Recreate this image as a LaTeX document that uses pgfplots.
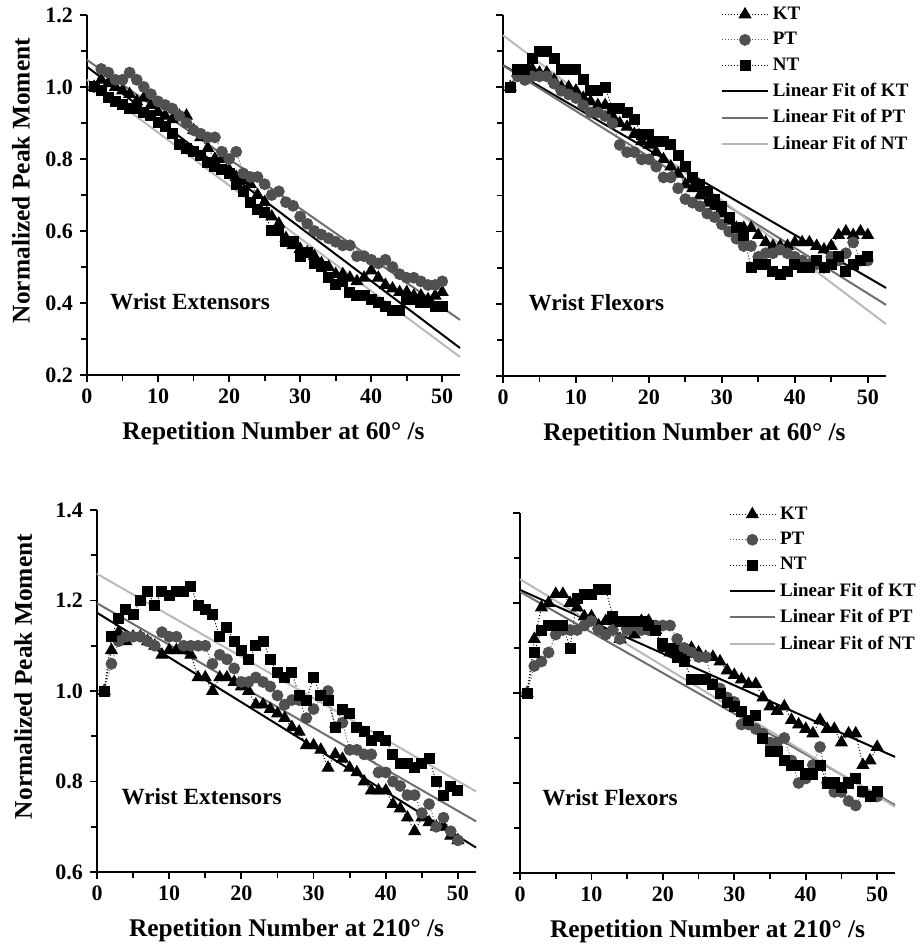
\documentclass[border=0pt]{standalone}
\usepackage{fontspec}
\setmainfont{Liberation Serif}
\usepackage{pgfplots}
\usepackage{pgfplotstable}
\pgfplotsset{compat=1.18}
\definecolor{ptmarkcol}{RGB}{80,80,80}
\definecolor{ptfitcol}{RGB}{110,110,110}
\definecolor{ntfitcol}{RGB}{185,185,185}

% columns: repetition, KT, PT, NT
\pgfplotstableread{
x kt pt nt
1 1.00 1.00 1.00
2 1.02 1.05 0.99
3 1.01 1.04 0.97
4 1.00 1.02 0.96
5 0.99 1.02 0.95
6 0.98 1.04 0.94
7 0.96 1.02 0.94
8 0.97 1.00 0.93
9 0.95 0.98 0.92
10 0.93 0.96 0.90
11 0.92 0.95 0.89
12 0.91 0.94 0.87
13 0.92 0.92 0.84
14 0.92 0.90 0.83
15 0.88 0.88 0.82
16 0.86 0.87 0.81
17 0.83 0.86 0.79
18 0.80 0.86 0.78
19 0.80 0.82 0.77
20 0.77 0.80 0.76
21 0.75 0.82 0.73
22 0.74 0.76 0.71
23 0.73 0.75 0.68
24 0.70 0.75 0.66
25 0.68 0.73 0.65
26 0.64 0.70 0.60
27 0.62 0.71 0.60
28 0.58 0.68 0.57
29 0.56 0.67 0.57
30 0.55 0.64 0.53
31 0.54 0.62 0.54
32 0.53 0.60 0.51
33 0.51 0.59 0.50
34 0.50 0.58 0.47
35 0.48 0.57 0.45
36 0.48 0.56 0.46
37 0.47 0.56 0.43
38 0.46 0.53 0.42
39 0.47 0.53 0.42
40 0.49 0.52 0.41
41 0.47 0.51 0.40
42 0.45 0.52 0.39
43 0.44 0.50 0.38
44 0.43 0.48 0.38
45 0.43 0.47 0.41
46 0.42 0.47 0.41
47 0.42 0.46 0.40
48 0.41 0.45 0.40
49 0.42 0.45 0.39
50 0.43 0.46 0.39
}\extsixty

\pgfplotstableread{
x kt pt nt
1 1.00 1.00 1.00
2 1.04 1.03 1.05
3 1.03 1.02 1.05
4 1.05 1.03 1.08
5 1.04 1.03 1.10
6 1.04 1.03 1.10
7 1.02 1.01 1.08
8 1.00 0.99 1.05
9 1.00 0.98 1.05
10 0.99 0.97 1.05
11 0.97 0.95 1.02
12 0.96 0.93 0.99
13 0.95 0.93 0.99
14 0.95 0.92 1.00
15 0.92 0.90 0.94
16 0.90 0.84 0.94
17 0.89 0.82 0.93
18 0.87 0.82 0.91
19 0.85 0.80 0.87
20 0.84 0.80 0.87
21 0.82 0.78 0.85
22 0.80 0.75 0.85
23 0.78 0.75 0.84
24 0.76 0.72 0.81
25 0.73 0.69 0.78
26 0.72 0.68 0.75
27 0.70 0.67 0.73
28 0.68 0.65 0.71
29 0.67 0.64 0.69
30 0.65 0.62 0.67
31 0.63 0.60 0.64
32 0.61 0.58 0.61
33 0.61 0.56 0.59
34 0.61 0.56 0.50
35 0.59 0.53 0.51
36 0.57 0.54 0.51
37 0.56 0.54 0.49
38 0.56 0.55 0.48
39 0.56 0.54 0.49
40 0.57 0.53 0.51
41 0.57 0.52 0.50
42 0.57 0.51 0.50
43 0.56 0.51 0.52
44 0.55 0.50 0.50
45 0.56 0.53 0.51
46 0.59 0.52 0.53
47 0.60 0.54 0.49
48 0.59 0.57 0.51
49 0.60 0.52 0.52
50 0.59 0.52 0.53
}\flexsixty

\pgfplotstableread{
x kt pt nt
1 1.00 1.00 1.00
2 1.09 1.06 1.12
3 1.13 1.11 1.16
4 1.11 1.12 1.18
5 1.12 1.12 1.17
6 1.12 1.12 1.20
7 1.11 1.11 1.22
8 1.10 1.10 1.19
9 1.08 1.13 1.22
10 1.09 1.12 1.21
11 1.09 1.12 1.22
12 1.09 1.10 1.22
13 1.08 1.10 1.23
14 1.03 1.10 1.19
15 1.03 1.10 1.18
16 1.00 1.06 1.17
17 1.03 1.08 1.12
18 1.03 1.07 1.14
19 1.02 1.05 1.11
20 1.01 1.02 1.09
21 1.00 1.02 1.07
22 0.97 1.03 1.10
23 0.97 1.02 1.11
24 0.96 1.01 1.07
25 0.95 0.99 1.04
26 0.94 0.97 1.03
27 0.92 0.98 1.04
28 0.91 0.98 0.99
29 0.88 0.94 0.98
30 0.88 0.96 1.03
31 0.87 0.99 0.99
32 0.83 1.00 0.98
33 0.86 0.92 0.92
34 0.85 0.93 0.96
35 0.83 0.87 0.95
36 0.82 0.87 0.92
37 0.80 0.86 0.91
38 0.78 0.86 0.89
39 0.78 0.82 0.90
40 0.78 0.82 0.89
41 0.75 0.80 0.86
42 0.74 0.79 0.84
43 0.72 0.77 0.84
44 0.69 0.77 0.83
45 0.72 0.73 0.84
46 0.71 0.75 0.85
47 0.70 0.70 0.80
48 0.70 0.72 0.77
49 0.68 0.69 0.79
50 0.67 0.67 0.78
}\exttwoten

\pgfplotstableread{
x kt pt nt
1 1.00 1.00 1.00
2 1.12 1.06 1.09
3 1.19 1.07 1.14
4 1.20 1.09 1.15
5 1.22 1.13 1.15
6 1.22 1.14 1.15
7 1.20 1.14 1.10
8 1.19 1.14 1.21
9 1.17 1.15 1.22
10 1.17 1.16 1.22
11 1.15 1.14 1.23
12 1.16 1.13 1.23
13 1.16 1.14 1.17
14 1.12 1.12 1.16
15 1.15 1.14 1.16
16 1.13 1.15 1.16
17 1.16 1.14 1.16
18 1.16 1.14 1.15
19 1.14 1.15 1.14
20 1.10 1.15 1.11
21 1.09 1.15 1.10
22 1.10 1.12 1.08
23 1.08 1.10 1.07
24 1.10 1.09 1.03
25 1.09 1.08 1.03
26 1.08 1.08 1.03
27 1.08 1.02 1.02
28 1.07 1.01 1.00
29 1.05 0.99 0.98
30 1.04 0.98 0.97
31 1.03 0.93 0.96
32 1.02 0.93 0.94
33 1.02 0.92 0.95
34 0.99 0.91 0.90
35 0.97 0.89 0.87
36 0.96 0.89 0.87
37 0.97 0.90 0.85
38 0.94 0.85 0.84
39 0.93 0.80 0.84
40 0.92 0.81 0.82
41 0.91 0.84 0.82
42 0.94 0.88 0.84
43 0.92 0.80 0.80
44 0.92 0.78 0.80
45 0.89 0.78 0.79
46 0.91 0.76 0.80
47 0.91 0.75 0.81
48 0.84 0.78 0.78
49 0.85 0.77 0.77
50 0.88 0.77 0.78
}\flextwoten

\pgfplotsset{
  panel/.style={
    scale only axis, anchor=south west,
    axis lines=left, axis line style={-, line width=1pt},
    xmin=0, xmax=52.5, xtick={0,10,...,50}, minor x tick num=1,
    minor y tick num=1,
    tick align=outside, major tick length=3.5pt, minor tick length=3pt,
    every tick/.style={black, line width=0.9pt},
    clip=false,
    ticklabel style={font=\bfseries\fontsize{11}{12}\selectfont},
    /pgf/number format/assume math mode=true,
    yticklabel style={/pgf/number format/.cd, fixed, fixed zerofill, precision=1},
    label style={font=\bfseries\fontsize{12.7}{14}\selectfont},
    xlabel style={at={(axis description cs:0.5,0)}, yshift=-29pt, anchor=center},
    legend style={draw=none, fill=none, anchor=north east, inner sep=0pt,
      font=\bfseries\fontsize{9.5}{10}\selectfont, row sep=1pt},
    legend cell align=left,
    legend image code/.code={\draw[mark repeat=2,mark phase=2] plot coordinates {(0cm,0cm) (0.4cm,0cm) (0.8cm,0cm)};},
  },
  ktdata/.style={black, densely dotted, line width=0.5pt, mark=triangle*, mark size=3.3pt, mark options={solid}},
  ptdata/.style={ptmarkcol, densely dotted, line width=0.5pt, mark=*, mark size=2.7pt, mark options={solid}},
  ntdata/.style={black, densely dotted, line width=0.5pt, mark=square*, mark size=2.5pt, mark options={solid}},
  ktfit/.style={black, line width=1pt, no marks},
  ptfit/.style={ptfitcol, line width=1pt, no marks},
  ntfit/.style={ntfitcol, line width=1pt, no marks},
}

\begin{document}
\begin{tikzpicture}
\useasboundingbox (0,0) rectangle (461pt,472.5pt);

% top left: extensors at 60 deg/s
\begin{axis}[panel, at={(43.5pt,285pt)}, width=186.5pt, height=180pt,
  ymin=0.2, ymax=1.2, ytick={0.2,0.4,...,1.21},
  xlabel={Repetition Number at 60° /s}, ylabel={Normalized Peak Moment},
  ylabel style={at={(axis description cs:-0.177,0.54)}, anchor=center}]
\addplot[ktdata] table[x=x, y=kt] {\extsixty};
\addplot[ptdata] table[x=x, y=pt] {\extsixty};
\addplot[ntdata] table[x=x, y=nt] {\extsixty};
\addplot[ktfit] coordinates {(0,1.056) (52.5,0.275)};
\addplot[ptfit] coordinates {(0,1.075) (52.5,0.353)};
\addplot[ntfit] coordinates {(0,1.020) (52.5,0.250)};
\node[font=\bfseries\fontsize{11.6}{12}\selectfont] at (axis cs:14.5,0.403) {Wrist Extensors};
\end{axis}

% top right: flexors at 60 deg/s
\begin{axis}[panel, at={(251.5pt,284.5pt)}, width=191.5pt, height=180.5pt,
  ymin=0.2, ymax=1.2, ytick={0.2,0.4,...,1.21}, yticklabels={},
  xlabel={Repetition Number at 60° /s},
  legend style={at={(1.07,1.035)}}]
\addplot[ktdata] table[x=x, y=kt] {\flexsixty};
\addplot[ptdata] table[x=x, y=pt] {\flexsixty};
\addplot[ntdata] table[x=x, y=nt] {\flexsixty};
\addplot[ktfit] coordinates {(0,1.061) (52.5,0.444)};
\addplot[ptfit] coordinates {(0,1.060) (52.5,0.397)};
\addplot[ntfit] coordinates {(0,1.144) (52.5,0.344)};
\node[font=\bfseries\fontsize{11.6}{12}\selectfont] at (axis cs:12.8,0.403) {Wrist Flexors};
\legend{KT, PT, NT, Linear Fit of KT, Linear Fit of PT, Linear Fit of NT}
\end{axis}

% bottom left: extensors at 210 deg/s
\begin{axis}[panel, at={(48.5pt,36.5pt)}, width=189.5pt, height=181pt,
  ymin=0.6, ymax=1.4, ytick={0.6,0.8,...,1.41},
  xlabel={Repetition Number at 210° /s}, ylabel={Normalized Peak Moment},
  ylabel style={at={(axis description cs:-0.195,0.54)}, anchor=center}]
\addplot[ktdata] table[x=x, y=kt] {\exttwoten};
\addplot[ptdata] table[x=x, y=pt] {\exttwoten};
\addplot[ntdata] table[x=x, y=nt] {\exttwoten};
\addplot[ktfit] coordinates {(0,1.173) (52.5,0.654)};
\addplot[ptfit] coordinates {(0,1.194) (52.5,0.712)};
\addplot[ntfit] coordinates {(0,1.259) (52.5,0.778)};
\node[font=\bfseries\fontsize{11.6}{12}\selectfont] at (axis cs:14.5,0.766) {Wrist Extensors};
\end{axis}

% bottom right: flexors at 210 deg/s
\begin{axis}[panel, at={(260pt,36pt)}, width=187.5pt, height=180pt,
  ymin=0.6, ymax=1.4, ytick={0.6,0.8,...,1.41}, yticklabels={},
  xlabel={Repetition Number at 210° /s},
  legend style={at={(1.067,1.03)}}]
\addplot[ktdata] table[x=x, y=kt] {\flextwoten};
\addplot[ptdata] table[x=x, y=pt] {\flextwoten};
\addplot[ntdata] table[x=x, y=nt] {\flextwoten};
\addplot[ktfit] coordinates {(0,1.229) (52.5,0.858)};
\addplot[ptfit] coordinates {(0,1.225) (52.5,0.751)};
\addplot[ntfit] coordinates {(0,1.253) (52.5,0.747)};
\node[font=\bfseries\fontsize{11.6}{12}\selectfont] at (axis cs:12.6,0.767) {Wrist Flexors};
\legend{KT, PT, NT, Linear Fit of KT, Linear Fit of PT, Linear Fit of NT}
\end{axis}
\end{tikzpicture}
\end{document}
